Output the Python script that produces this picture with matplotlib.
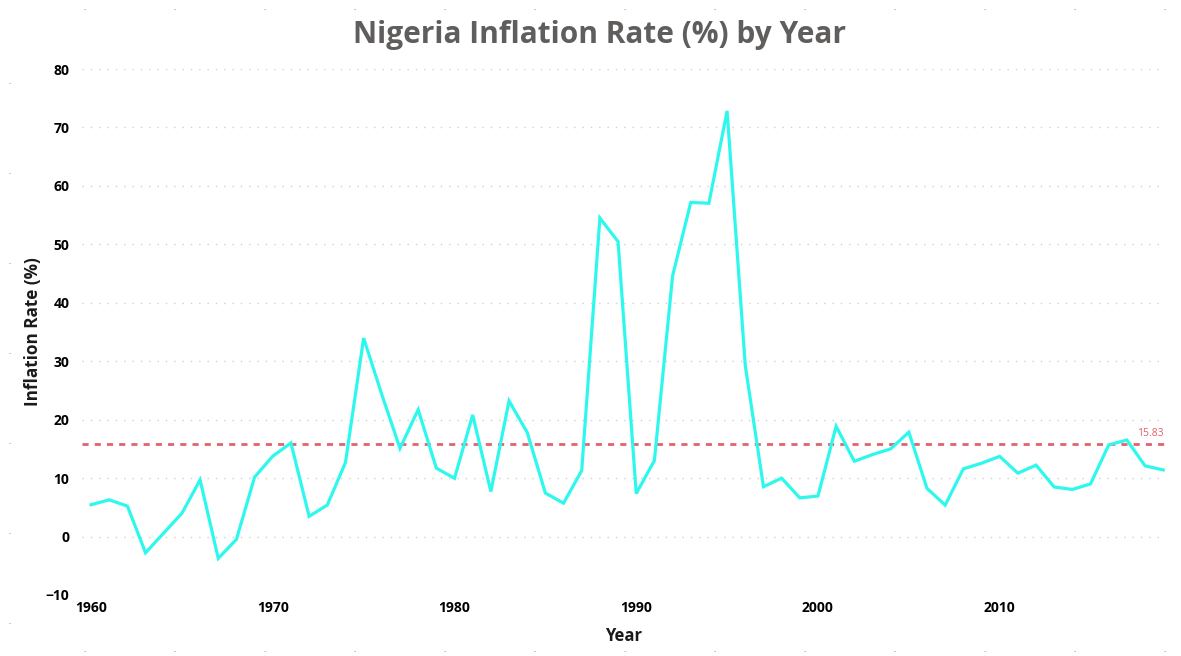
import matplotlib
matplotlib.use("Agg")
from matplotlib import pyplot as plt

years = list(range(1960, 2020))
inflation = [
    5.44, 6.28, 5.21, -2.78, 0.61, 3.99, 9.70, -3.73, -0.48, 10.18,
    13.76, 16.01, 3.46, 5.40, 12.67, 33.96, 24.30, 15.09, 21.71, 11.71,
    9.97, 20.81, 7.70, 23.21, 17.82, 7.44, 5.72, 11.29, 54.51, 50.47,
    7.36, 13.01, 44.59, 57.17, 57.03, 72.84, 29.27, 8.53, 9.99, 6.62,
    6.93, 18.87, 12.88, 14.03, 15.00, 17.86, 8.24, 5.38, 11.58, 12.55,
    13.72, 10.84, 12.22, 8.48, 8.06, 9.01, 15.68, 16.52, 12.09, 11.40,
]
avg_rate = 15.83
x_ticks = [1960, 1970, 1980, 1990, 2000, 2010]
y_ticks = [-10, 0, 10, 20, 30, 40, 50, 60, 70, 80]

plt.rcParams['font.family'] = ['Open Sans', 'DejaVu Sans']

fig = plt.figure(figsize=(11.81, 6.56), dpi=100)
ax = fig.add_axes([0.0694, 0.0930, 0.9171, 0.8018])

ax.plot(years, inflation, color='#2EF8EE', lw=2.3, solid_joinstyle='miter', zorder=3)
ax.axhline(avg_rate, color='#E0646E', lw=2, ls=(0, (2.2, 2.2)), zorder=2)
ax.text(2019.0, avg_rate + 0.9, f'{avg_rate:.2f}', color='#E0646E', fontsize=7.5,
        ha='right', va='bottom')

ax.set_xlim(1959.5, 2019.1)
ax.set_ylim(-10, 80)
ax.set_xticks(x_ticks)
ax.set_yticks(y_ticks)
ax.grid(axis='y', color='#CFCFCF', lw=1, ls=(0, (1, 5)))
ax.set_axisbelow(True)
for s in ax.spines.values():
    s.set_visible(False)
ax.tick_params(length=0, labelsize=10, pad=9)
for lab in ax.get_xticklabels() + ax.get_yticklabels():
    lab.set_fontweight('bold')
ax.tick_params(axis='x', pad=4)

ax.set_xlabel('Year', fontsize=12, fontweight='bold', color='#1A1A1A', labelpad=9)
ax.set_ylabel('Inflation Rate (%)', fontsize=12.3, fontweight='bold', color='#1A1A1A', labelpad=3)
fig.text(0.508, 0.946, 'Nigeria Inflation Rate (%) by Year', ha='center', va='center',
         fontsize=21.5, fontweight='bold', color='#605E5C')

# frame handle dots around the visual
xs = [85 + 90 * i for i in range(13)]
for x in xs:
    fig.text(x / 1181, 1 - 8 / 656, '.', color='#666666', fontsize=6, ha='center', va='center')
    fig.text(x / 1181, 1 - 650 / 656, '.', color='#666666', fontsize=6, ha='center', va='center')
for y in [83 + 90 * i for i in range(7)]:
    fig.text(10 / 1181, 1 - y / 656, '.', color='#666666', fontsize=6, ha='center', va='center')

fig.savefig('out.png', dpi=100)
